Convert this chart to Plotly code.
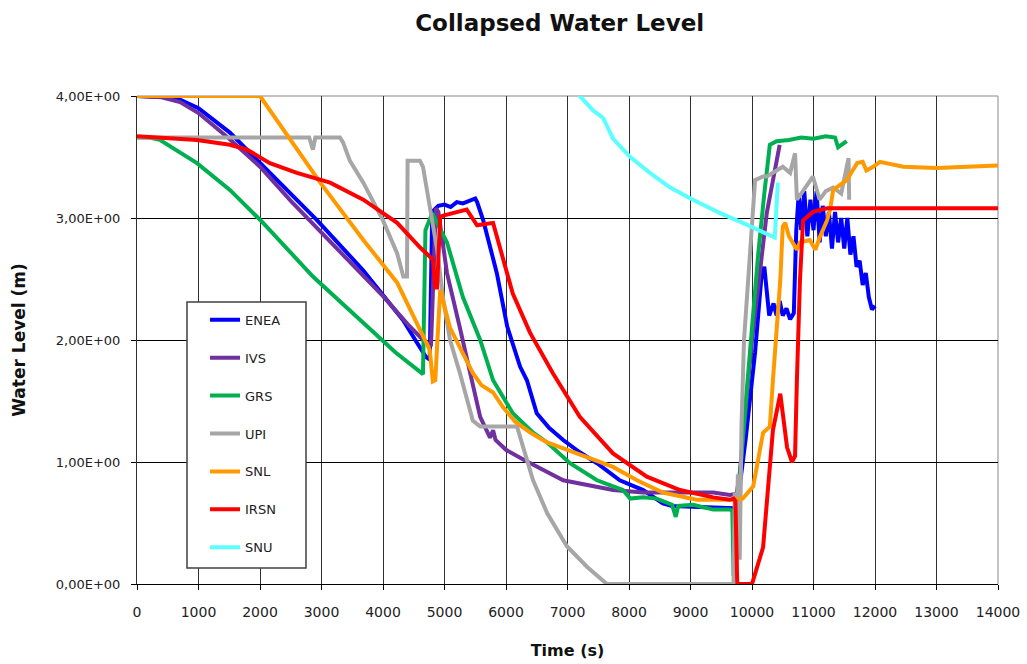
import plotly.graph_objects as go

# ---------------- data ----------------
enea_t = [0, 500, 700, 1000, 1510, 2160, 2930, 3680, 4000, 4330, 4550, 4700, 4760,
          4800, 4900, 5000, 5100, 5200, 5300, 5400, 5500, 5530, 5630, 5850, 6020, 6230,
          6340, 6500, 6700, 6930, 7200, 7480, 7850, 8230, 8550, 8700, 9100, 9400, 9640,
          9720, 9800, 9900, 10050, 10150, 10200, 10240, 10280, 10350, 10400, 10450, 10500,
          10560, 10620, 10680, 10720, 10760, 10800, 10850, 10900, 10950, 11000, 11050,
          11100, 11150, 11200, 11250, 11300, 11350, 11400, 11450, 11500, 11550, 11600,
          11650, 11700, 11750, 11800, 11850, 11900, 11950, 12000]
enea_v = [4.00, 3.99, 3.97, 3.90, 3.70, 3.37, 2.98, 2.57, 2.37, 2.16, 1.98, 1.86, 1.84,
          3.05, 3.10, 3.11, 3.09, 3.13, 3.12, 3.14, 3.16, 3.13, 2.98, 2.55, 2.11, 1.78,
          1.67, 1.40, 1.28, 1.18, 1.08, 0.99, 0.85, 0.77, 0.66, 0.64, 0.63, 0.63, 0.62,
          0.62, 0.80, 1.20, 1.90, 2.50, 2.60, 2.40, 2.20, 2.30, 2.20, 2.32, 2.20,
          2.26, 2.17, 2.22, 2.90, 3.20, 2.90, 3.22, 2.85, 3.15, 2.90, 3.22,
          2.80, 3.10, 2.85, 3.05, 2.75, 3.05, 2.80, 3.00, 2.75, 3.00, 2.70,
          2.85, 2.60, 2.65, 2.45, 2.55, 2.35, 2.25, 2.28]

ivs_t = [0, 400, 700, 1000, 1500, 2000, 2500, 3000, 3500, 4000, 4400, 4650, 4780, 4830,
         4860, 4900, 5040, 5250, 5410, 5580, 5740, 5790, 5830, 6000, 6280, 6930, 7740,
         8230, 9370, 9640, 9750, 9800, 10000, 10240, 10450]
ivs_v = [4.00, 3.99, 3.95, 3.86, 3.65, 3.42, 3.14, 2.88, 2.63, 2.36, 2.13, 2.00, 1.95, 2.60,
         3.08, 3.05, 2.55, 2.10, 1.73, 1.37, 1.20, 1.26, 1.18, 1.10, 1.02, 0.85, 0.77,
         0.75, 0.75, 0.73, 0.74, 0.90, 2.00, 3.04, 3.60]

grs_t = [0, 200, 370, 975, 1510, 2050, 2860, 3680, 4200, 4650, 4690, 4800, 5040, 5300,
         5580, 5790, 6110, 6440, 6670, 7040, 7480, 7900, 8020, 8230, 8450, 8700, 8760,
         8800, 9040, 9370, 9640, 9680, 9700, 9740, 9770, 9850, 9970, 10100, 10200, 10290,
         10400, 10600, 10800, 11000, 11200, 11350, 11400, 11450, 11540]
grs_v = [3.66, 3.66, 3.64, 3.45, 3.23, 2.96, 2.52, 2.14, 1.90, 1.72, 2.90, 3.04, 2.80, 2.35,
         2.00, 1.67, 1.40, 1.24, 1.16, 0.99, 0.85, 0.77, 0.70, 0.71, 0.70, 0.65, 0.55,
         0.64, 0.65, 0.61, 0.61, 0.60, 0.09, 0.10, 0.65, 1.20, 1.95, 2.70, 3.20, 3.60,
         3.63, 3.64, 3.66, 3.65, 3.67, 3.66, 3.58, 3.60, 3.63]

upi_t = [0, 2800, 2860, 2900, 3300, 3350, 3460, 3680, 4000, 4230, 4330, 4390, 4400, 4600,
         4650, 4760, 4880, 4980, 5090, 5250, 5460, 5580, 6180, 6280, 6440, 6670, 6990,
         7320, 7640, 9700, 9720, 9740, 9770, 9800, 9830, 9870, 9950, 10050, 10180, 10240,
         10500, 10620, 10700, 10730, 10800, 10990, 11100, 11200, 11320, 11450, 11570, 11580]
upi_v = [3.66, 3.66, 3.56, 3.66, 3.66, 3.62, 3.47, 3.29, 2.98, 2.71, 2.52, 2.52, 3.47, 3.47,
         3.42, 3.09, 2.74, 2.33, 2.00, 1.73, 1.34, 1.29, 1.29, 1.12, 0.85, 0.58, 0.31,
         0.14, 0.00, 0.00, 0.75, 0.10, 0.90, 0.20, 1.30, 2.00, 2.60, 3.31, 3.34, 3.34,
         3.42, 3.37, 3.53, 3.15, 3.20, 3.34, 3.15, 3.22, 3.25, 3.20, 3.49, 3.15]

snl_t = [0, 2000, 2980, 3680, 4230, 4600, 4760, 4810, 4850, 4930, 5090, 5460, 5600, 5790,
         5950, 6150, 6400, 6670, 7200, 7740, 8130, 8550, 9100, 9690, 9850, 10020, 10180,
         10290, 10340, 10460, 10500, 10540, 10600, 10730, 10780, 10940, 11030, 11100,
         11220, 11270, 11320, 11540, 11710, 11800, 11860, 11970, 12080, 12460, 13000,
         13500, 14000]
snl_v = [4.00, 4.00, 3.29, 2.82, 2.47, 2.08, 1.92, 1.66, 1.67, 2.41, 2.10, 1.73, 1.63, 1.57,
         1.45, 1.33, 1.24, 1.16, 1.06, 0.96, 0.85, 0.75, 0.69, 0.69, 0.70, 0.80, 1.24,
         1.29, 1.67, 2.49, 2.93, 2.96, 2.85, 2.74, 2.80, 2.82, 2.74, 2.84,
         2.98, 3.07, 3.23, 3.31, 3.45, 3.46, 3.39, 3.42, 3.46, 3.42, 3.41,
         3.42, 3.43]

irsn_t = [0, 975, 1510, 1790, 2160, 2600, 3140, 3680, 4230, 4600, 4810, 4850, 4880, 4930,
          4980, 5200, 5360, 5530, 5790, 5900, 6110, 6390, 6760, 7200, 7740, 8290, 8830,
          9370, 9640, 9700, 9730, 9760, 10000, 10180, 10340, 10460, 10570, 10650, 10700,
          10730, 10780, 10830, 10990, 11220, 12000, 14000]
irsn_v = [3.67, 3.64, 3.60, 3.56, 3.45, 3.37, 3.29, 3.15, 2.96, 2.76, 2.66, 2.43, 2.43, 3.01,
          3.02, 3.05, 3.07, 2.94, 2.96, 2.76, 2.38, 2.06, 1.73, 1.37, 1.07, 0.88, 0.77,
          0.71, 0.69, 0.70, 0.68, 0.00, 0.00, 0.30, 1.26, 1.56, 1.12, 1.00, 1.05,
          1.67, 2.49, 2.98, 3.05, 3.08, 3.08, 3.08]

snu_t = [7150, 7200, 7420, 7580, 7740, 8020, 8340, 8670, 9040, 9480, 9850, 10370, 10420]
snu_v = [4.04, 4.00, 3.88, 3.82, 3.65, 3.50, 3.37, 3.25, 3.15, 3.04, 2.96, 2.84, 3.29]

names = ["ENEA", "IVS", "GRS", "UPI", "SNL", "IRSN", "SNU"]
colors = ["#0000FF", "#7030A0", "#00B050", "#A6A6A6", "#FF9900", "#FF0000", "#5CFFFF"]
series_t = [enea_t, ivs_t, grs_t, upi_t, snl_t, irsn_t, snu_t]
series_v = [enea_v, ivs_v, grs_v, upi_v, snl_v, irsn_v, snu_v]

x_ticks = list(range(0, 14001, 1000))
y_ticks = [0, 1, 2, 3, 4]
y_ticktext = ["0,00E+00", "1,00E+00", "2,00E+00", "3,00E+00", "4,00E+00"]

FONT = "DejaVu Sans"

fig = go.Figure()
for i, (n, c, t, v) in enumerate(zip(names, colors, series_t, series_v)):
    fig.add_trace(go.Scatter(x=t, y=v, mode="lines", name=n, legendgroup=n,
                             line=dict(color=c, width=4)))

fig.update_layout(
    width=1027, height=664,
    margin=dict(l=137, r=29, t=96, b=80),
    paper_bgcolor="white", plot_bgcolor="white",
    font=dict(family=FONT, color="#222222"),
    title=dict(text="<b>Collapsed Water Level</b>", x=0.545, xanchor="center",
               y=0.966, yanchor="middle", font=dict(size=23, color="#111111", family=FONT)),
    showlegend=True,
    legend=dict(x=0.079, y=0.572, xanchor="left", yanchor="top",
                bgcolor="rgba(0,0,0,0)", borderwidth=0,
                font=dict(size=13, family=FONT, color="#222222"),
                itemwidth=30, tracegroupgap=18, traceorder="grouped"),
    shapes=[
        dict(type="rect", xref="paper", yref="paper",
             x0=(187 - 137) / 861, x1=(306 - 137) / 861,
             y0=(584 - 568) / 488, y1=(584 - 302) / 488,
             fillcolor="white", line=dict(color="#404040", width=1.5), layer="above"),
        dict(type="line", xref="paper", yref="paper", x0=0, x1=1, y0=1, y1=1,
             line=dict(color="#B0B0B0", width=1.5), layer="between"),
        dict(type="line", xref="paper", yref="paper", x0=1, x1=1, y0=0, y1=1,
             line=dict(color="#B0B0B0", width=1.5), layer="between"),
    ],
)

fig.update_xaxes(range=[0, 14000], tickvals=x_ticks, ticktext=[str(v) for v in x_ticks],
                 showgrid=True, gridcolor="#303030", gridwidth=1,
                 showline=True, linecolor="#000000", linewidth=1,
                 ticks="outside", ticklen=5, tickcolor="#000000",
                 ticklabelstandoff=10, zeroline=False,
                 tickfont=dict(size=14, family=FONT, color="#222222"),
                 title=dict(text="<b>Time (s)</b>", standoff=26,
                            font=dict(size=16, family=FONT, color="#111111")),
                 automargin=False)
fig.update_yaxes(range=[0, 4], tickvals=y_ticks, ticktext=y_ticktext,
                 showgrid=True, gridcolor="#000000", gridwidth=1,
                 showline=True, linecolor="#303030", linewidth=1,
                 ticks="outside", ticklen=5, tickcolor="#000000",
                 ticklabelstandoff=8, zeroline=False,
                 tickfont=dict(size=13, family=FONT, color="#222222"),
                 title=dict(text="<b>Water Level (m)</b>", standoff=25,
                            font=dict(size=17, family=FONT, color="#111111")),
                 automargin=False)

fig.write_html("out.html")
